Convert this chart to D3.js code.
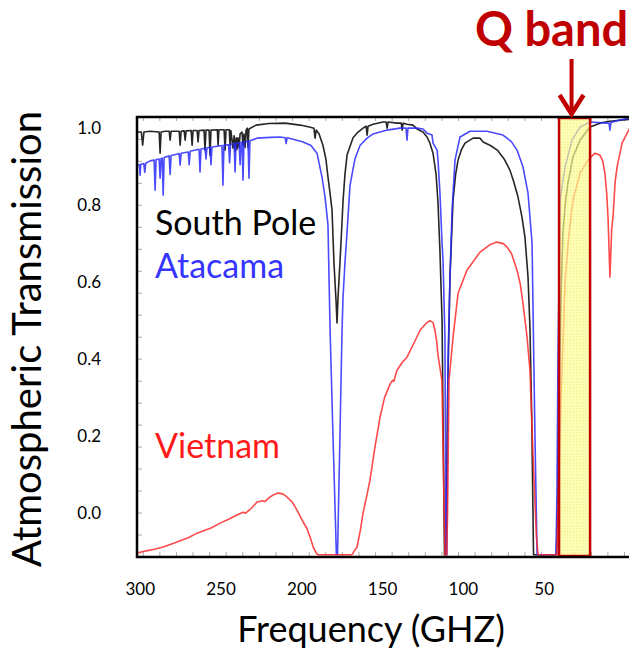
<!DOCTYPE html>
<html>
<head>
<meta charset="utf-8">
<script src="https://cdn.jsdelivr.net/npm/d3@7"></script>
<style>
  body { margin: 0; background: #fff; }
  svg { display: block; font-family: Lato, "Open Sans", sans-serif; }
</style>
</head>
<body>
<svg id="drawing_region"></svg>
<script>
// tick labels as printed on the figure
const xTickLabels = [300, 250, 200, 150, 100, 50];
const yTickLabels = [0.0, 0.2, 0.4, 0.6, 0.8, 1.0];

// Q band window (axis units)
const qBand = [40.5, 21.3];

// [frequency, transmission]; -0.108 = curve lying on the bottom frame
const southPole = [
  [301.7, 0.990], [299.0, 0.990], [298.2, 0.956], [297.4, 0.990], [293.6, 0.992],
  [288.0, 0.990], [287.4, 0.935], [286.8, 0.990], [284.0, 0.992],
  [281.8, 0.992], [281.2, 0.969], [280.6, 0.992],
  [275.6, 0.992], [275.0, 0.956], [274.4, 0.992],
  [272.5, 0.993], [271.9, 0.969], [271.3, 0.993],
  [268.2, 0.994], [267.6, 0.956], [267.0, 0.994],
  [264.5, 0.994], [263.9, 0.964], [263.3, 0.994],
  [260.2, 0.995], [259.6, 0.943], [259.0, 0.995],
  [257.1, 0.995], [256.5, 0.930], [255.9, 0.995],
  [252.0, 0.996], [251.5, 0.956], [251.0, 0.996],
  [247.8, 0.996], [247.2, 0.943], [246.6, 0.996],
  [244.6, 0.996], [244.1, 0.956], [243.6, 0.994],
  [242.3, 0.948], [241.6, 0.980], [241.0, 0.940], [240.3, 0.975], [239.8, 0.945],
  [239.2, 0.975], [238.5, 0.950], [237.9, 0.985], [236.7, 0.990], [236.1, 0.955],
  [235.5, 0.985], [234.8, 0.950], [234.2, 0.995], [233.5, 1.000], [233.0, 0.950], [232.4, 0.998],
  [228.0, 1.008], [220.0, 1.012], [210.0, 1.013], [200.8, 1.008], [195.0, 1.003],
  [192.2, 1.000], [191.5, 0.974], [190.8, 0.995], [189.0, 0.985], [186.6, 0.955],
  [184.8, 0.920], [183.5, 0.873], [182.2, 0.830], [181.0, 0.787], [179.8, 0.650],
  [178.5, 0.550], [177.9, 0.494], [177.3, 0.560], [176.1, 0.650], [175.0, 0.740],
  [174.2, 0.810], [173.0, 0.880], [171.7, 0.930], [168.0, 0.975], [164.9, 0.990],
  [161.8, 1.000], [159.9, 1.005], [159.3, 0.982], [158.7, 1.005], [155.6, 1.010],
  [149.4, 1.016], [147.5, 1.016], [146.9, 1.000], [146.3, 1.016], [140.8, 1.013],
  [138.2, 1.013], [137.6, 0.995], [137.0, 1.013], [134.6, 1.010], [130.9, 1.008],
  [128.4, 0.998], [124.7, 0.990], [122.2, 0.977], [120.4, 0.961], [118.5, 0.935],
  [116.6, 0.880], [115.4, 0.805], [114.2, 0.680], [112.9, 0.500], [112.3, 0.250],
  [111.4, -0.108], [110.5, -0.108], [109.5, 0.300], [108.0, 0.613], [106.1, 0.813],
  [104.5, 0.880], [103.0, 0.917], [100.8, 0.945], [98.7, 0.961], [93.7, 0.974],
  [89.4, 0.974], [87.5, 0.964], [83.0, 0.955], [78.7, 0.943], [74.5, 0.920],
  [70.9, 0.891], [68.5, 0.860], [65.9, 0.821], [63.5, 0.770], [61.6, 0.717],
  [59.7, 0.613], [58.5, 0.480], [57.4, 0.250], [56.3, -0.108], [42.2, -0.108],
  [41.2, 0.050], [40.5, 0.294], [39.3, 0.560], [38.1, 0.727], [36.5, 0.810],
  [35.0, 0.857], [31.9, 0.925], [27.5, 0.969], [21.3, 1.003], [15.2, 1.013],
  [9.0, 1.018], [-3.0, 1.023], [-10, 1.024]
];

const atacama = [
  [301.7, 0.904], [300.2, 0.905], [299.8, 0.878], [299.4, 0.906],
  [297.5, 0.908], [296.9, 0.885], [296.3, 0.909], [293.6, 0.915],
  [291.1, 0.917], [290.5, 0.839], [289.9, 0.918],
  [288.0, 0.920], [287.4, 0.870], [286.8, 0.921],
  [286.1, 0.922], [285.5, 0.826], [284.9, 0.924],
  [281.8, 0.928], [281.2, 0.880], [280.6, 0.929], [277.0, 0.932],
  [275.6, 0.934], [275.0, 0.904], [274.4, 0.935],
  [270.0, 0.938], [269.4, 0.905], [268.8, 0.940],
  [263.3, 0.945], [262.7, 0.886], [262.1, 0.946],
  [259.6, 0.948], [259.0, 0.920], [258.4, 0.949],
  [256.5, 0.950], [255.9, 0.905], [255.3, 0.951], [252.0, 0.953],
  [249.1, 0.955], [248.5, 0.852], [247.9, 0.956],
  [245.0, 0.957], [244.4, 0.910], [243.8, 0.958],
  [241.6, 0.960], [241.0, 0.886], [240.4, 0.961],
  [238.5, 0.962], [237.9, 0.905], [237.3, 0.963],
  [236.7, 0.963], [236.1, 0.865], [235.5, 0.964],
  [233.0, 0.966], [232.4, 0.870], [231.8, 0.967],
  [227.4, 0.974], [219.0, 0.976], [213.2, 0.977],
  [210.0, 0.975], [209.4, 0.960], [208.8, 0.975],
  [204.0, 0.970], [198.9, 0.964], [194.0, 0.955], [190.3, 0.935], [187.2, 0.873],
  [185.3, 0.821], [183.5, 0.748], [182.2, 0.475], [180.4, 0.200], [178.3, -0.108],
  [177.6, -0.108], [176.1, 0.200], [174.8, 0.475], [174.2, 0.560], [173.0, 0.650],
  [171.7, 0.730], [169.9, 0.850], [168.6, 0.880], [166.8, 0.920], [163.7, 0.955],
  [159.3, 0.974], [155.6, 0.985], [146.9, 0.995], [138.9, 1.000],
  [135.2, 1.000], [134.6, 0.969], [134.0, 1.000],
  [128.4, 1.000], [124.7, 0.998], [122.2, 0.987], [119.1, 0.982], [118.5, 0.961],
  [116.0, 0.943], [115.4, 0.917], [114.2, 0.831], [112.9, 0.700], [112.3, 0.657],
  [111.1, 0.450], [110.5, -0.108], [109.9, -0.108], [109.2, 0.400], [108.0, 0.613],
  [106.7, 0.787], [104.9, 0.917], [101.8, 0.977], [95.6, 0.992], [85.1, 0.992],
  [75.2, 0.982], [70.0, 0.965], [66.5, 0.943], [62.8, 0.899], [59.7, 0.831],
  [57.2, 0.701], [56.6, 0.527], [55.4, 0.200], [54.1, -0.108], [42.4, -0.108],
  [41.8, 0.050], [41.2, 0.379], [39.9, 0.813], [36.8, 0.899], [32.5, 0.969],
  [27.5, 1.003], [21.3, 1.016], [10.8, 1.013], [9.6, 1.013], [9.0, 0.995],
  [8.4, 1.015], [2.8, 1.021], [-3.0, 1.026], [-10, 1.027]
];

const vietnam = [
  [301.7, -0.104], [296.0, -0.098], [291.0, -0.094], [285.5, -0.088], [279.0, -0.078],
  [275.0, -0.072], [270.0, -0.064], [264.5, -0.052], [258.0, -0.042], [255.5, -0.038],
  [250.3, -0.026], [245.0, -0.016], [239.8, -0.005], [236.0, 0.002], [234.5, 0.000],
  [231.0, 0.012], [227.4, 0.029], [224.0, 0.032], [222.5, 0.030], [219.4, 0.042],
  [217.0, 0.048], [214.4, 0.052], [211.5, 0.050], [208.9, 0.042], [205.5, 0.028],
  [202.7, 0.008], [200.5, -0.010], [198.9, -0.023], [196.5, -0.040], [194.6, -0.062],
  [192.5, -0.090], [190.5, -0.105], [189.7, -0.108], [168.6, -0.108], [167.5, -0.100],
  [165.5, -0.088], [163.5, -0.045], [161.8, 0.000], [159.5, 0.045], [157.5, 0.086],
  [154.5, 0.170], [151.3, 0.249], [148.5, 0.300], [145.1, 0.335], [143.5, 0.345],
  [142.8, 0.342], [140.8, 0.371], [137.5, 0.392], [134.6, 0.405], [130.5, 0.440],
  [126.5, 0.475], [123.0, 0.492], [120.4, 0.500], [118.5, 0.495], [117.3, 0.475],
  [116.2, 0.445], [115.4, 0.410], [113.0, 0.345], [111.6, 0.000], [111.1, -0.108],
  [110.0, -0.108], [109.5, 0.000], [108.6, 0.345], [106.1, 0.457], [103.0, 0.571],
  [97.5, 0.631], [89.4, 0.678], [83.0, 0.698], [79.0, 0.704], [75.0, 0.700],
  [72.7, 0.691], [70.0, 0.675], [66.5, 0.631], [64.5, 0.595], [62.8, 0.545],
  [60.3, 0.457], [58.5, 0.371], [56.6, 0.150], [54.5, -0.062], [53.5, -0.108],
  [41.8, -0.108], [41.0, 0.050], [39.3, 0.294], [36.8, 0.597], [34.5, 0.720],
  [31.9, 0.813], [27.5, 0.883], [22.6, 0.917], [18.3, 0.935], [15.2, 0.930],
  [13.5, 0.915], [12.1, 0.883], [11.0, 0.830], [10.2, 0.769], [9.0, 0.613],
  [7.9, 0.740], [7.1, 0.769], [5.8, 0.860], [4.6, 0.899], [1.5, 0.961],
  [-3.0, 0.998], [-10, 1.01]
];

const seriesNames = ["South Pole", "Atacama", "Vietnam"];

var config = {
    parent: '#drawing_region',
    width: 629,
    height: 651,
    plot: {left: 137, top: 117, right: 640, bottom: 557},
    xDomain: [301.7, -9.6],
    yDomain: [-0.114, 1.029],
    colors: ["#000000", "#2a2aff", "#ff2a2a"],
    labelColors: ["#000000", "#3535ff", "#ff1a1a"],
    legend: [{x: 155, y: 235}, {x: 155, y: 278}, {x: 155, y: 458}],
    dark_red: "#c00000"
};

class SpectrumChart {

    constructor( config ) {
        this.config = config;
        this.series = [southPole, atacama, vietnam];
        this.init();
    }

    init() {
        let self = this;
        let p = self.config.plot;

        self.svg = d3.select( self.config.parent )
            .attr('width', self.config.width)
            .attr('height', self.config.height);

        self.xscale = d3.scaleLinear()
            .domain( self.config.xDomain )
            .range( [p.left, p.right] );

        self.yscale = d3.scaleLinear()
            .domain( self.config.yDomain )
            .range( [p.bottom, p.top] );

        let defs = self.svg.append('defs');
        defs.append('clipPath').attr('id', 'plot-clip')
            .append('rect')
            .attr('x', p.left).attr('y', p.top)
            .attr('width', p.right - p.left).attr('height', p.bottom - p.top);

        let pat = defs.append('pattern')
            .attr('id', 'dots')
            .attr('width', 3).attr('height', 3)
            .attr('patternUnits', 'userSpaceOnUse');
        pat.append('rect').attr('width', 3).attr('height', 3).attr('fill', '#ffffa0');
        pat.append('rect').attr('width', 1.5).attr('height', 1.5).attr('fill', '#f2ee55');
    }

    render() {
        let self = this;
        let p = self.config.plot;

        // faint minor ticks of the original plot
        const minorY = d3.range(self.config.yDomain[0], 1.03, 0.0571);
        const minorX = d3.range(0, 302, 10.27);
        let ticks = self.svg.append('g').attr('stroke', '#aaa').attr('stroke-width', 1);
        ticks.selectAll('.my').data(minorY).join('line')
            .attr('x1', p.left).attr('x2', p.left + 5)
            .attr('y1', d => self.yscale(d)).attr('y2', d => self.yscale(d));
        ticks.selectAll('.mxb').data(minorX).join('line')
            .attr('x1', d => self.xscale(d)).attr('x2', d => self.xscale(d))
            .attr('y1', p.bottom).attr('y2', p.bottom - 5);
        ticks.selectAll('.mxt').data(minorX).join('line')
            .attr('x1', d => self.xscale(d)).attr('x2', d => self.xscale(d))
            .attr('y1', p.top).attr('y2', p.top + 4);

        // curves
        const line = d3.line()
            .x( d => self.xscale(d[0]) )
            .y( d => self.yscale(d[1]) );

        self.svg.append('g')
            .attr('clip-path', 'url(#plot-clip)')
            .selectAll('path')
            .data(self.series)
            .join('path')
            .attr('d', line)
            .attr('fill', 'none')
            .attr('stroke', (d, i) => self.config.colors[i])
            .attr('stroke-width', 1.6)
            .attr('stroke-opacity', 0.85)
            .attr('stroke-linejoin', 'round');

        // Q band box
        self.svg.append('rect')
            .attr('x', self.xscale(qBand[0]))
            .attr('y', p.top + 1)
            .attr('width', self.xscale(qBand[1]) - self.xscale(qBand[0]))
            .attr('height', p.bottom - p.top - 2)
            .attr('fill', 'url(#dots)')
            .attr('fill-opacity', 0.7)
            .attr('stroke', self.config.dark_red)
            .attr('stroke-width', 2.5);

        // frame
        self.svg.append('rect')
            .attr('x', p.left).attr('y', p.top)
            .attr('width', p.right - p.left).attr('height', p.bottom - p.top)
            .attr('fill', 'none')
            .attr('stroke', '#000')
            .attr('stroke-width', 2.5);

        // axes
        self.xaxis = d3.axisBottom( self.xscale )
            .tickValues( xTickLabels )
            .tickSize(0)
            .tickPadding(26);
        self.svg.append('g')
            .attr('transform', `translate(0, ${p.bottom})`)
            .call( self.xaxis )
            .call( g => g.select('.domain').remove() )
            .selectAll('text')
            .attr('font-family', 'Lato, sans-serif')
            .attr('font-size', 17)
            .attr('fill', '#000');

        self.yaxis = d3.axisLeft( self.yscale )
            .tickValues( yTickLabels )
            .tickFormat( d3.format('.1f') )
            .tickSize(0)
            .tickPadding(36);
        self.svg.append('g')
            .attr('transform', `translate(${p.left}, 0)`)
            .call( self.yaxis )
            .call( g => g.select('.domain').remove() )
            .selectAll('text')
            .attr('font-family', 'Lato, sans-serif')
            .attr('font-size', 17)
            .attr('fill', '#000');

        // axis titles
        self.svg.append('text')
            .attr('x', 371)
            .attr('y', 642)
            .attr('text-anchor', 'middle')
            .style('font-size', '36px')
            .text('Frequency (GHZ)');

        self.svg.append('text')
            .attr('transform', 'translate(41, 339) rotate(-90)')
            .attr('text-anchor', 'middle')
            .style('font-size', '40px')
            .text('Atmospheric Transmission');

        // series labels
        self.svg.selectAll('.series-label')
            .data(seriesNames)
            .join('text')
            .attr('x', (d, i) => self.config.legend[i].x)
            .attr('y', (d, i) => self.config.legend[i].y)
            .attr('fill', (d, i) => self.config.labelColors[i])
            .style('font-size', '34px')
            .text(d => d);

        // Q band title and arrow
        const mid = self.xscale((qBand[0] + qBand[1]) / 2) - 3;
        self.svg.append('text')
            .attr('x', 475)
            .attr('y', 46)
            .attr('fill', self.config.dark_red)
            .style('font-size', '47px')
            .style('font-weight', 'bold')
            .text('Q band');

        self.svg.append('line')
            .attr('x1', mid).attr('x2', mid)
            .attr('y1', 59).attr('y2', 112)
            .attr('stroke', self.config.dark_red)
            .attr('stroke-width', 4);
        self.svg.append('path')
            .attr('d', `M${mid - 12},${95} L${mid},${114} L${mid + 12},${95}`)
            .attr('fill', 'none')
            .attr('stroke', self.config.dark_red)
            .attr('stroke-width', 4.5)
            .attr('stroke-linejoin', 'miter');
    }
}

const chart = new SpectrumChart( config );
chart.render();
</script>
</body>
</html>
